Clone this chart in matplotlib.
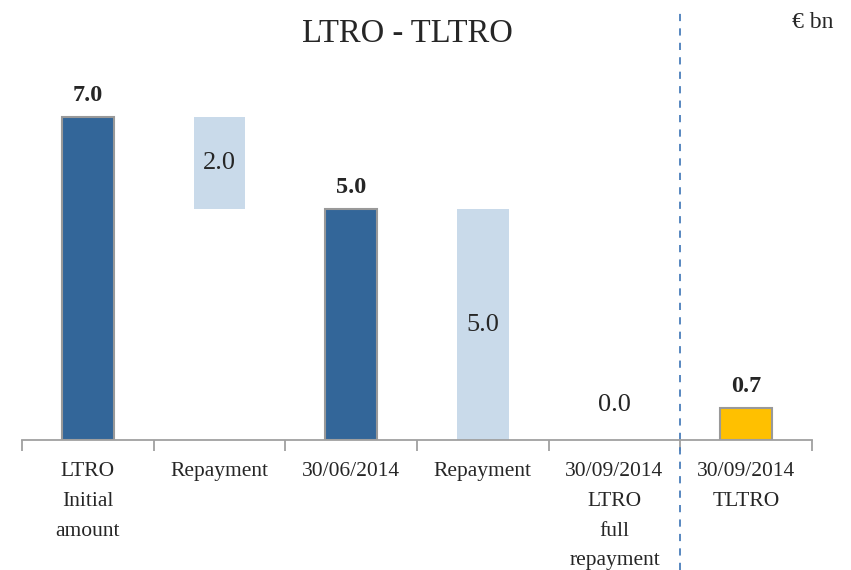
import matplotlib
matplotlib.use("Agg")
import matplotlib.pyplot as plt
import numpy as np

categories = ["LTRO\nInitial\namount", "Repayment", "30/06/2014", "Repayment",
              "30/09/2014\nLTRO\nfull\nrepayment", "30/09/2014\nTLTRO"]
bar_bottoms = [0.0, 5.0, 0.0, 0.0, 0.0, 0.0]
bar_heights = [7.0, 2.0, 5.0, 5.0, 0.0, 0.7]
bar_kinds = ["total", "step", "total", "step", "total", "tltro"]
value_labels = ["7.0", "2.0", "5.0", "5.0", "0.0", "0.7"]

colors = {"total": "#336699", "step": "#c9daea", "tltro": "#ffc000"}
edges = {"total": "#999999", "step": "none", "tltro": "#999999"}

plt.rcParams['font.family'] = ['Liberation Serif', 'DejaVu Serif']

fig = plt.figure(figsize=(8.51, 5.70), dpi=100)
W, H = 851, 570
base_px = 130
unit_px = 46.15
ymax = 8.0
ax = fig.add_axes([22 / W, base_px / H, 790 / W, ymax * unit_px / H])

x = np.arange(len(categories))
for i in range(len(categories)):
    k = bar_kinds[i]
    if bar_heights[i] > 0:
        ax.bar(x[i], bar_heights[i], bottom=bar_bottoms[i], width=0.39,
               color=colors[k], edgecolor=edges[k], linewidth=1.5 if edges[k] != "none" else 0)
    top = bar_bottoms[i] + bar_heights[i]
    if k == "step":
        ax.text(x[i], bar_bottoms[i] + bar_heights[i] / 2, value_labels[i],
                ha="center", va="center", fontsize=19, color="#262626")
    elif bar_heights[i] == 0:
        ax.text(x[i], top + 0.76, value_labels[i], ha="center", va="center",
                fontsize=19, color="#262626")
    else:
        ax.text(x[i], top + 0.47, value_labels[i], ha="center", va="center",
                fontsize=17.5, fontweight="bold", color="#262626")

ax.set_xlim(-0.5, len(categories) - 0.5)
ax.set_ylim(0, ymax)
for s in ["left", "right", "top"]:
    ax.spines[s].set_visible(False)
ax.spines["bottom"].set_color("#a0a0a0")
ax.spines["bottom"].set_linewidth(1.3)
ax.set_yticks([])
ax.set_xticks(x)
ax.set_xticklabels(categories, fontsize=15.5, linespacing=1.76, color="#262626", va="top")
ax.tick_params(axis="x", which="major", length=0, pad=16)
ax.set_xticks(np.arange(-0.5, len(categories)), minor=True)
ax.tick_params(axis="x", which="minor", length=8, width=1.3, color="#a0a0a0", direction="out")

# dashed separator
ax.axvline(4.5, ymin=-base_px / (ymax * unit_px), ymax=(H - 12 - base_px) / (ymax * unit_px),
           color="#4a7ebb", linestyle=(0, (4, 4)), linewidth=1.3, clip_on=False)

fig.text(407 / W, 1 - 34 / H, "LTRO - TLTRO", ha="center", va="center", fontsize=23.5, color="#262626")
fig.text(813 / W, 1 - 22 / H, "€ bn", ha="center", va="center", fontsize=17, color="#262626")

fig.savefig("out.png", dpi=100)
